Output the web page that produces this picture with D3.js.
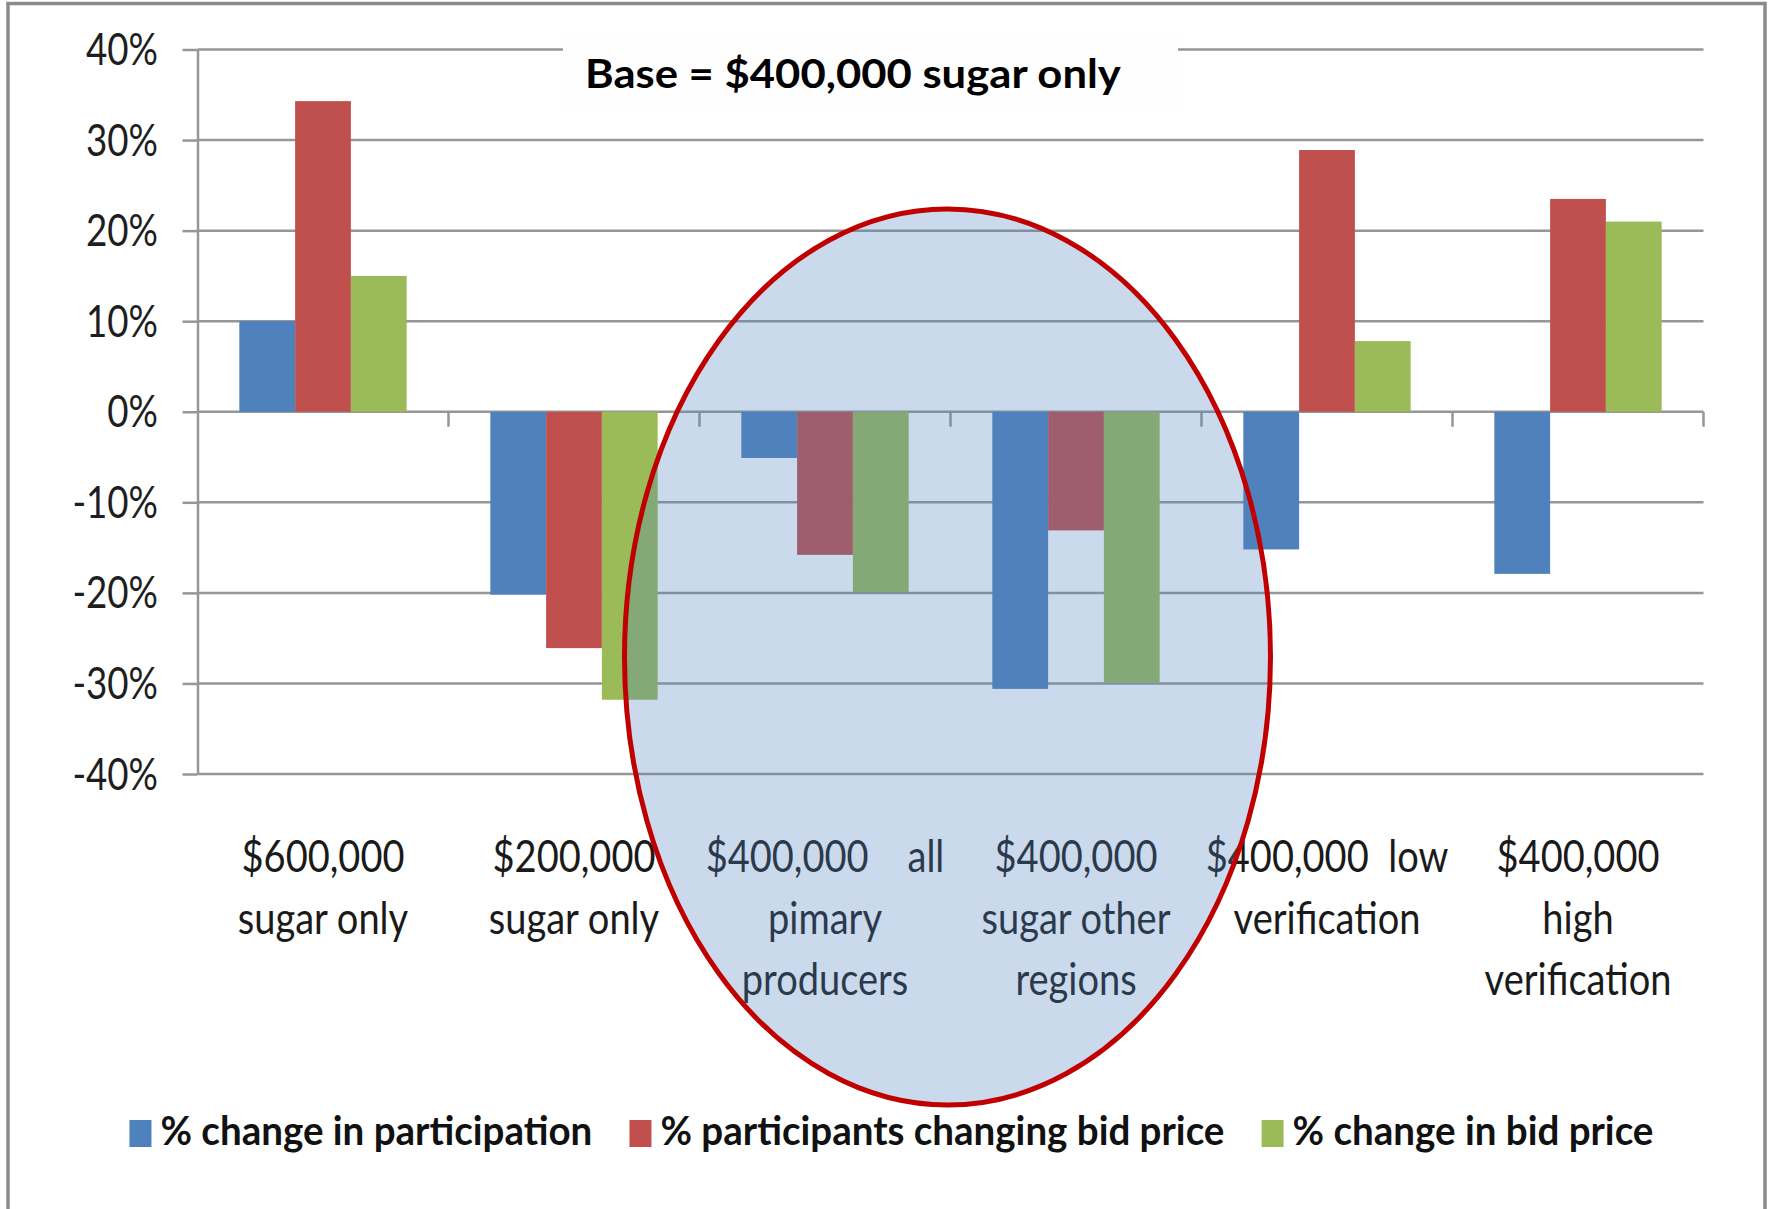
<!DOCTYPE html>
<html><head><meta charset="utf-8">
<script src="https://cdn.jsdelivr.net/npm/d3@7"></script>
<style>
body{margin:0;background:#fff}
svg{display:block}
text{font-family:Lato,'Open Sans',sans-serif}
</style>
</head><body>
<svg id="chart" width="1772" height="1209"></svg>
<script>
// ---------- data ----------
const categories = [
  ["$600,000", "sugar only"],
  ["$200,000", "sugar only"],
  ["$400,000    all", "pimary", "producers"],
  ["$400,000", "sugar other", "regions"],
  ["$400,000  low", "verification"],
  ["$400,000", "high", "verification"]
];
const seriesNames = ["% change in participation", "% participants changing bid price", "% change in bid price"];
const participation   = [10.0, -20.2, -5.1, -30.6, -15.2, -17.9];
const changingBid     = [34.3, -26.1, -15.8, -13.1, 28.9, 23.5];
const bidPriceChange  = [15.0, -31.8, -19.9, -29.9, 7.8, 21.0];
const yTicks = [-40, -30, -20, -10, 0, 10, 20, 30, 40];
const titleText = "Base = $400,000 sugar only";
const colors = ["#4F81BD", "#C0504D", "#9BBB59"];

const series = [participation, changingBid, bidPriceChange];

// ---------- layout ----------
const svg = d3.select("#chart");
const L = 197.5, R = 1703.5, T = 49.5, B = 774;

const x = d3.scaleBand().domain(d3.range(categories.length)).range([L, R]).padding(0);
const bw = x.bandwidth();
const x1 = d3.scaleBand().domain(d3.range(series.length)).range([bw / 6, bw * 5 / 6]).padding(0);
const y = d3.scaleLinear().domain([-40, 40]).range([B, T]);

// helper: natural width of a string
function measure(str, size, weight) {
  const t = svg.append("text").attr("font-size", size).attr("font-weight", weight).text(str);
  const w = t.node().getComputedTextLength();
  t.remove();
  return w;
}

// outer frame
svg.append("path")
  .attr("d", "M8,1209 V3.5 H1765 V1209")
  .attr("fill", "none").attr("stroke", "#8a8a8a").attr("stroke-width", 3.5);

// gridlines
const gridColor = "#969696";
svg.append("g").selectAll("line").data(yTicks).join("line")
  .attr("x1", L).attr("x2", R)
  .attr("y1", d => y(d)).attr("y2", d => y(d))
  .attr("stroke", gridColor).attr("stroke-width", 2.5);

// y axis
const tickFont = 44;
const sxTick = 72 / measure("40%", tickFont, "normal");
const yAxis = svg.append("g").attr("transform", `translate(${L},0)`)
  .call(d3.axisLeft(y).tickValues(yTicks).tickSize(15).tickSizeOuter(0).tickFormat(d => d + "%"));
yAxis.select(".domain").attr("stroke", gridColor).attr("stroke-width", 2.5);
yAxis.selectAll(".tick line").attr("stroke", gridColor).attr("stroke-width", 2.5);
yAxis.selectAll(".tick text")
  .attr("x", null).attr("dy", null)
  .attr("transform", `translate(-39.5,15) scale(${sxTick},1)`)
  .attr("font-size", tickFont).attr("fill", "#1e1e1e")
  .attr("font-family", "Lato, 'Open Sans', sans-serif");

// category ticks on zero line
svg.append("g").selectAll("line").data(d3.range(1, categories.length + 1)).join("line")
  .attr("x1", d => L + d * bw).attr("x2", d => L + d * bw)
  .attr("y1", y(0)).attr("y2", y(0) + 15)
  .attr("stroke", gridColor).attr("stroke-width", 2.5);

// bars
series.forEach((vals, s) => {
  svg.append("g").selectAll("rect").data(vals).join("rect")
    .attr("x", (d, i) => x(i) + x1(s))
    .attr("width", x1.bandwidth())
    .attr("y", d => y(Math.max(0, d)))
    .attr("height", d => Math.abs(y(d) - y(0)))
    .attr("fill", colors[s]);
});

// title box + text
svg.append("rect").attr("x", 563).attr("y", 33).attr("width", 615).attr("height", 77).attr("fill", "#fefefe");
const titleFont = 41;
const sxTitle = 536 / measure(titleText, titleFont, "bold");
svg.append("text")
  .attr("transform", `translate(585,87.5) scale(${sxTitle},1)`)
  .attr("font-size", titleFont).attr("font-weight", "bold").attr("fill", "#000")
  .text(titleText);

// category labels
const labFont = 45;
const sxLab = 163 / measure("$600,000", labFont, "normal");
const labG = svg.append("g");
categories.forEach((lines, i) => {
  lines.forEach((ln, k) => {
    labG.append("text")
      .attr("transform", `translate(${x(i) + bw / 2},${872 + k * 61.5}) scale(${sxLab},1)`)
      .attr("text-anchor", "middle")
      .attr("font-size", labFont).attr("fill", "#1a1a1a")
      .style("white-space", "pre")
      .text(ln);
  });
});

// legend
const legFont = 41;
const sxLeg = 432 / measure(seriesNames[0], legFont, "bold");
const legW = seriesNames.map(n => measure(n, legFont, "bold") * sxLeg);
const sqW = 22, sqH = 27, sqGap = 9, itemGap = 37;
const total = d3.sum(legW) + seriesNames.length * (sqW + sqGap) + itemGap * (seriesNames.length - 1);
let lx = 891.5 - total / 2;
const legG = svg.append("g");
seriesNames.forEach((n, s) => {
  legG.append("rect").attr("x", lx).attr("y", 1120).attr("width", sqW).attr("height", sqH).attr("fill", colors[s]);
  legG.append("text")
    .attr("transform", `translate(${lx + sqW + sqGap},1145) scale(${sxLeg},1)`)
    .attr("font-size", legFont).attr("font-weight", "bold").attr("fill", "#111")
    .text(n);
  lx += sqW + sqGap + legW[s] + itemGap;
});

// highlight ellipse (annotation)
svg.append("ellipse")
  .attr("cx", L + 3 * bw - 3).attr("cy", 657).attr("rx", 323).attr("ry", 448)
  .attr("fill", "#4F81BD").attr("fill-opacity", 0.3)
  .attr("stroke", "#C00000").attr("stroke-width", 5);
</script>
</body></html>
